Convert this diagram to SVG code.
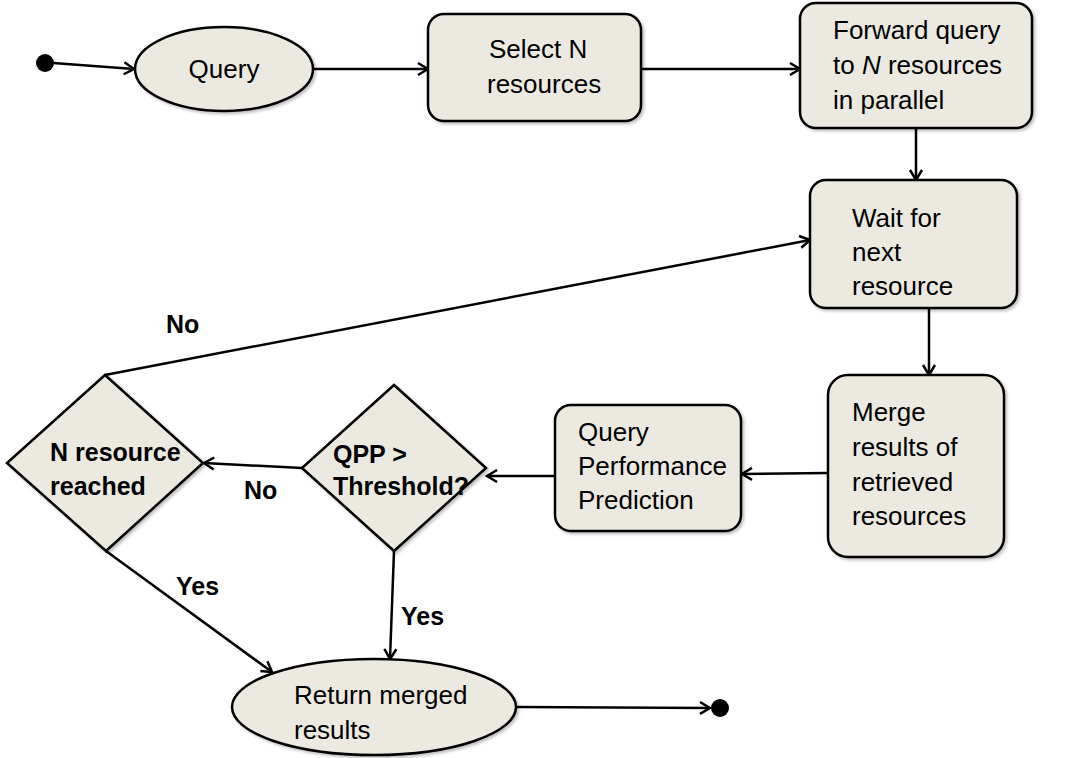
<svg xmlns="http://www.w3.org/2000/svg" width="1065" height="758" viewBox="0 0 1065 758">
  <style>
    .shape { fill: #ECEAE0; stroke: #000; stroke-width: 2.5; filter: url(#shadow); }
    .lbl { font-family: "Liberation Sans", Arial, sans-serif; font-size: 26px; fill: #000; }
    .bold { font-weight: bold; font-size: 25px; }
    .edge { fill: none; stroke: #000; stroke-width: 2.5; }
    .dot { fill: #000; }
  </style>
  <defs>
    <filter id="shadow" x="-10%" y="-10%" width="130%" height="130%">
      <feDropShadow dx="2" dy="2" stdDeviation="1.5" flood-color="#000" flood-opacity="0.25"/>
    </filter>
    <marker id="arrow" markerUnits="userSpaceOnUse" markerWidth="16" markerHeight="16" viewBox="0 0 16 16" refX="14" refY="8" orient="auto">
      <path d="M4,2 L14,8 L4,14" fill="none" stroke="#000" stroke-width="2.5"/>
    </marker>
  </defs>

  <!-- connectors -->
  <g id="connectors">
    <path class="edge" d="M53,63 L134,69" marker-end="url(#arrow)"/>
    <path class="edge" d="M313,69 L428,69" marker-end="url(#arrow)"/>
    <path class="edge" d="M641,69 L800,69" marker-end="url(#arrow)"/>
    <path class="edge" d="M916,128 L916,180" marker-end="url(#arrow)"/>
    <path class="edge" d="M929,308 L929,375" marker-end="url(#arrow)"/>
    <path class="edge" d="M828,473 L742,474" marker-end="url(#arrow)"/>
    <path class="edge" d="M555,476 L487,476" marker-end="url(#arrow)"/>
    <path class="edge" d="M302,468 L204,463" marker-end="url(#arrow)"/>
    <path class="edge" d="M105,375 L810,240" marker-end="url(#arrow)"/>
    <path class="edge" d="M106,551 L272,672" marker-end="url(#arrow)"/>
    <path class="edge" d="M394,551 L390,659" marker-end="url(#arrow)"/>
    <path class="edge" d="M517,707 L710,708" marker-end="url(#arrow)"/>
    <text class="lbl bold" x="166" y="333">No</text>
    <text class="lbl bold" x="244" y="499">No</text>
    <text class="lbl bold" x="176" y="595">Yes</text>
    <text class="lbl bold" x="401" y="625">Yes</text>
  </g>

  <g id="start">
    <circle class="dot" cx="45" cy="63" r="9"/>
  </g>

  <g id="query">
    <ellipse class="shape" cx="224" cy="69" rx="89" ry="42"/>
    <text class="lbl" x="224" y="78" text-anchor="middle">Query</text>
  </g>

  <g id="select">
    <rect class="shape" x="428" y="14" width="213" height="107" rx="16"/>
    <text class="lbl" x="489" y="58">Select N</text>
    <text class="lbl" x="487" y="93">resources</text>
  </g>

  <g id="forward">
    <rect class="shape" x="800" y="3" width="232" height="125" rx="16"/>
    <text class="lbl" x="833" y="39">Forward query</text>
    <text class="lbl" x="833" y="74">to <tspan font-style="italic">N</tspan> resources</text>
    <text class="lbl" x="833" y="109">in parallel</text>
  </g>

  <g id="wait">
    <rect class="shape" x="810" y="180" width="207" height="128" rx="16"/>
    <text class="lbl" x="852" y="227">Wait for</text>
    <text class="lbl" x="852" y="261">next</text>
    <text class="lbl" x="852" y="295">resource</text>
  </g>

  <g id="merge">
    <rect class="shape" x="828" y="375" width="176" height="182" rx="20"/>
    <text class="lbl" x="852" y="421">Merge</text>
    <text class="lbl" x="852" y="456">results of</text>
    <text class="lbl" x="852" y="491">retrieved</text>
    <text class="lbl" x="852" y="525">resources</text>
  </g>

  <g id="qpp">
    <rect class="shape" x="555" y="405" width="186" height="126" rx="16"/>
    <text class="lbl" x="578" y="441">Query</text>
    <text class="lbl" x="578" y="475">Performance</text>
    <text class="lbl" x="578" y="509">Prediction</text>
  </g>

  <g id="threshold">
    <polygon class="shape" points="394,385 486,468 394,551 302,468"/>
    <text class="lbl bold" x="333" y="463">QPP &gt;</text>
    <text class="lbl bold" x="333" y="495">Threshold?</text>
  </g>

  <g id="reached">
    <polygon class="shape" points="105,375 203,463 106,551 7,463"/>
    <text class="lbl bold" x="50" y="461">N resource</text>
    <text class="lbl bold" x="50" y="495">reached</text>
  </g>

  <g id="return">
    <ellipse class="shape" cx="374" cy="707" rx="142" ry="48"/>
    <text class="lbl" x="294" y="704">Return merged</text>
    <text class="lbl" x="294" y="739">results</text>
  </g>

  <g id="end">
    <circle class="dot" cx="720" cy="708" r="9"/>
  </g>
</svg>
